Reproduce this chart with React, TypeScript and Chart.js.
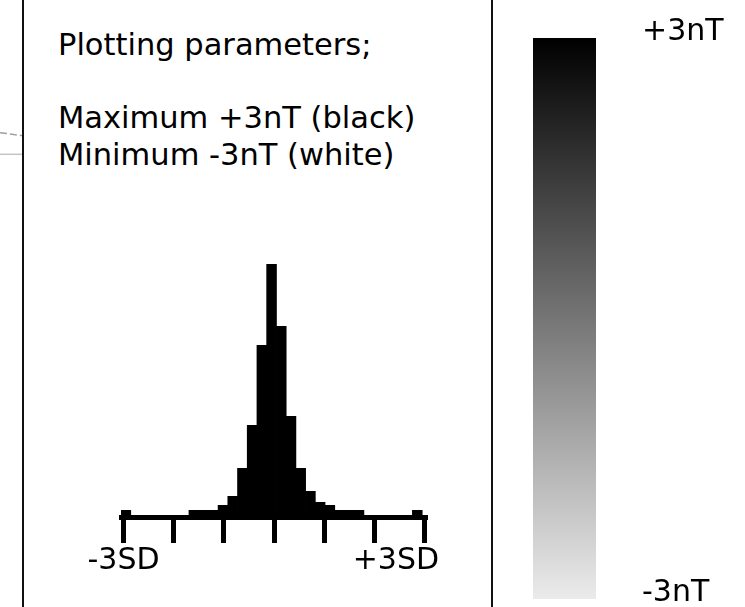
import React, { useEffect, useRef } from 'react';
import { Chart, registerables } from 'chart.js';

Chart.register(...registerables);

const FONT = 'DejaVu Sans';

// Histogram of the plotted values: bin centres (in standard deviations) and bar heights
const binCentres = [
  -3.0, -2.8, -2.6, -2.4, -2.2, -2.0, -1.8, -1.6, -1.4, -1.2, -1.0,
  -0.8, -0.6, -0.4, -0.2, 0.0, 0.2, 0.4, 0.6, 0.8, 1.0,
  1.2, 1.4, 1.6, 1.8, 2.0, 2.2, 2.4, 2.6, 2.8, 3.0,
];
const binCounts = [
  5, 0, 0, 0, 0, 0, 0, 5, 5, 5, 10,
  19, 47, 90, 170, 251, 189, 99, 47, 24, 13,
  10, 5, 5, 5, 0, 0, 0, 0, 0, 5,
];
const sdTicks = [-3, -2, -1, 0, 1, 2, 3];
const sdTickLabels = ['-3SD', '', '', '', '', '', '+3SD'];

// Grey-scale colour bar
const scaleRange = [-3, 3];
const scaleTicks = [-3, 3];
const scaleTickLabels = ['-3nT', '+3nT'];
const scaleTopColour = '#000000';
const scaleBottomColour = '#ebebeb';

// Fragments of traces from the neighbouring panel at the left edge
const traceFragmentA = [
  { x: 0, y: 12.7 },
  { x: 1, y: 15.7 },
];
const traceFragmentB = [
  { x: 0, y: 34.3 },
  { x: 1, y: 34.3 },
];

const infoLines = ['Plotting parameters;', '', 'Maximum +3nT (black)', 'Minimum -3nT (white)'];

export default function App() {
  const histRef = useRef<HTMLCanvasElement | null>(null);
  const barRef = useRef<HTMLCanvasElement | null>(null);
  const traceRef = useRef<HTMLCanvasElement | null>(null);

  useEffect(() => {
    const charts: Chart[] = [];

    if (histRef.current) {
      charts.push(
        new Chart(histRef.current, {
          type: 'bar',
          data: {
            datasets: [
              {
                data: binCentres.map((x, i) => ({ x, y: binCounts[i] })),
                backgroundColor: '#000000',
                borderWidth: 0,
                barPercentage: 1.08,
                categoryPercentage: 1,
                xAxisID: 'xb',
                yAxisID: 'y',
              },
            ],
          },
          options: {
            responsive: false,
            animation: false,
            layout: { padding: { left: 81, right: 93, top: 15, bottom: 8 } },
            plugins: { legend: { display: false }, tooltip: { enabled: false } },
            scales: {
              xb: {
                type: 'linear',
                position: 'bottom',
                display: false,
                min: -3.1,
                max: 3.2,
                offset: false,
                grid: { offset: false },
              },
              sd: {
                type: 'linear',
                position: 'bottom',
                min: -3.05,
                max: 3.05,
                offset: false,
                afterBuildTicks: (s: any) => {
                  s.ticks = sdTicks.map((v) => ({ value: v }));
                },
                border: { display: true, color: '#000000', width: 5 },
                grid: {
                  display: true,
                  offset: false,
                  drawOnChartArea: false,
                  drawTicks: true,
                  tickLength: 26,
                  tickWidth: 5,
                  tickColor: '#000000',
                },
                ticks: {
                  autoSkip: false,
                  maxRotation: 0,
                  minRotation: 0,
                  padding: 0,
                  color: '#000000',
                  font: { family: FONT, size: 30 },
                  callback: (_v: any, i: number) =>
                    i === sdTicks.length - 1 ? sdTickLabels[i] + '      ' : sdTickLabels[i],
                },
              },
              y: { type: 'linear', display: false, min: -2, max: 260 },
            },
          } as any,
        })
      );
    }

    if (barRef.current) {
      charts.push(
        new Chart(barRef.current, {
          type: 'bar',
          data: {
            labels: ['scale'],
            datasets: [
              {
                data: [scaleRange],
                backgroundColor: (ctx: any) => {
                  const area = ctx.chart.chartArea;
                  if (!area) return scaleTopColour;
                  const g = ctx.chart.ctx.createLinearGradient(0, area.top, 0, area.bottom);
                  g.addColorStop(0, scaleTopColour);
                  g.addColorStop(1, scaleBottomColour);
                  return g;
                },
                borderWidth: 0,
                barPercentage: 1,
                categoryPercentage: 1,
              },
            ],
          },
          options: {
            responsive: false,
            animation: false,
            layout: { padding: { left: 33, right: 0, top: 38, bottom: 41 } },
            plugins: { legend: { display: false }, tooltip: { enabled: false } },
            scales: {
              x: { display: false },
              y: {
                position: 'right',
                min: -3,
                max: 3,
                afterBuildTicks: (s: any) => {
                  s.ticks = scaleTicks.map((v) => ({ value: v }));
                },
                afterFit: (s: any) => {
                  s.width = 149;
                },
                border: { display: false },
                grid: { display: false, drawTicks: true, tickLength: 46 },
                ticks: {
                  padding: 0,
                  labelOffset: -6,
                  color: '#000000',
                  font: { family: FONT, size: 30 },
                  callback: (_v: any, i: number) => scaleTickLabels[i],
                },
              },
            },
          } as any,
        })
      );
    }

    if (traceRef.current) {
      charts.push(
        new Chart(traceRef.current, {
          type: 'line',
          data: {
            datasets: [
              {
                data: traceFragmentA,
                borderColor: '#a0a0a0',
                borderWidth: 1.5,
                borderDash: [7, 3],
                pointRadius: 0,
              },
              {
                data: traceFragmentB,
                borderColor: '#c4c4c4',
                borderWidth: 1.5,
                pointRadius: 0,
              },
            ],
          },
          options: {
            responsive: false,
            animation: false,
            layout: { padding: 0 },
            plugins: { legend: { display: false }, tooltip: { enabled: false } },
            scales: {
              x: { type: 'linear', display: false, min: 0, max: 1 },
              y: { type: 'linear', display: false, min: 0, max: 50, reverse: true },
            },
          } as any,
        })
      );
    }

    return () => {
      charts.forEach((c) => c.destroy());
    };
  }, []);

  return (
    <div
      style={{
        position: 'absolute',
        left: 0,
        top: 0,
        width: 745,
        height: 607,
        overflow: 'hidden',
        background: '#ffffff',
      }}
    >
      <canvas
        ref={traceRef}
        width={23}
        height={50}
        style={{ position: 'absolute', left: 0, top: 120, width: 23, height: 50 }}
      />
      <div style={{ position: 'absolute', left: 22, top: 0, width: 2, height: 607, background: '#111' }} />
      <div style={{ position: 'absolute', left: 491, top: 0, width: 2, height: 607, background: '#111' }} />
      <div
        style={{
          position: 'absolute',
          left: 58,
          top: 27,
          fontFamily: FONT,
          fontSize: 30.5,
          lineHeight: '36.5px',
          color: '#000',
          whiteSpace: 'pre',
        }}
      >
        {infoLines.map((t, i) => (
          <div key={i} style={{ height: 36.5 }}>
            {t}
          </div>
        ))}
      </div>
      <canvas
        ref={histRef}
        width={480}
        height={347}
        style={{ position: 'absolute', left: 40, top: 240, width: 480, height: 347 }}
      />
      <canvas
        ref={barRef}
        width={245}
        height={640}
        style={{ position: 'absolute', left: 500, top: 0, width: 245, height: 640 }}
      />
    </div>
  );
}
